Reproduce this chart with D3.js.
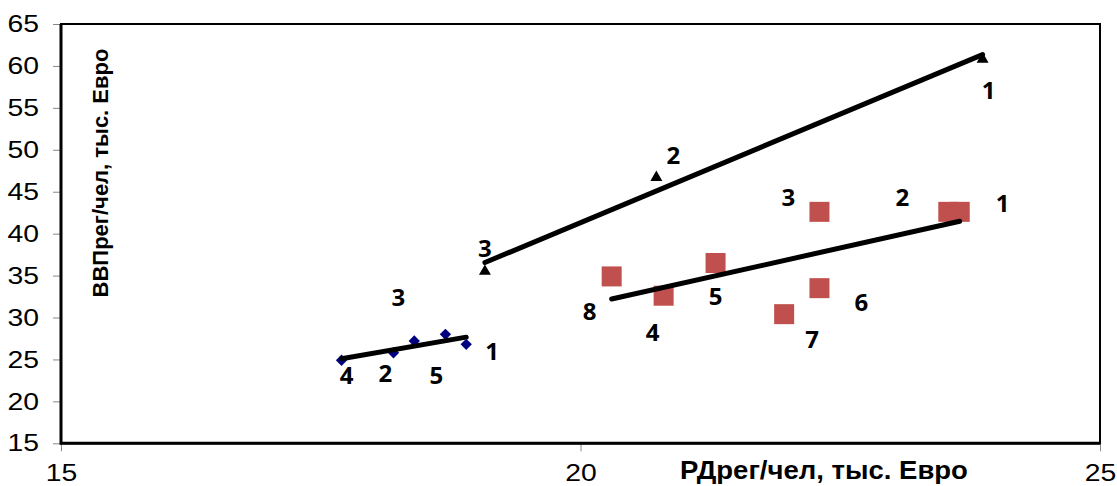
<!DOCTYPE html>
<meta charset="utf-8">
<style>
  body { margin: 0; background: #fff; }
  .tick text { font: 24px "Liberation Sans", Arial, sans-serif; fill: #000; }
  .tick line { stroke: #888; stroke-width: 1px; }
  .axis-title { font: bold 22px "Liberation Sans", Arial, sans-serif; fill: #000; }
  .x-title { font-size: 25px; }
  .pt-label { font: bold 24px "Open Sans", sans-serif; fill: #000; }
  .trend { fill: none; stroke: #000; stroke-width: 5px; stroke-linecap: round; }
</style>
<body>
<script src="https://cdn.jsdelivr.net/npm/d3@7"></script>
<script>
  // tick values
  var xTicks = [15, 20, 25];
  var yTicks = [15, 20, 25, 30, 35, 40, 45, 50, 55, 60, 65];

  // series 1 - blue diamonds
  var blueX = [17.7, 18.2, 18.4, 18.7, 18.9];
  var blueY = [24.9, 25.8, 27.2, 28.0, 26.8];
  var blueLabels = ["4", "2", "3", "5", "1"];

  // series 2 - red squares
  var redX = [20.3, 20.8, 21.3, 22.3, 22.3, 21.96, 23.54, 23.65];
  var redY = [34.9, 32.6, 36.5, 42.6, 33.5, 30.4, 42.6, 42.6];
  var redLabels = ["8", "4", "5", "3", "6", "7", "2", "1"];

  // series 3 - black triangles
  var triX = [19.08, 20.73, 23.87];
  var triY = [35.5, 46.7, 60.8];
  var triLabels = ["3", "2", "1"];

  // label offsets in px (dragged by hand in the original)
  var blueOff = [[5, 15], [-8, 21], [-16, -44], [-9, 41], [26, 7]];
  var redOff = [[-22, 35], [-11, 37], [0, 33], [-31, -14], [42, 14], [28, 25], [-46, -14], [43, -8]];
  var triOff = [[0, -23], [17, -22], [6, 31]];

  var width = 1117, height = 486;

  var svg = d3.select("body").append("svg")
    .attr("width", width)
    .attr("height", height);

  var x = d3.scaleLinear().domain([15, 25]).range([61, 1100]);
  var y = d3.scaleLinear().domain([15, 65]).range([443.3, 24]);

  // the original chart was stretched sideways a bit
  function stretch(sel, k) {
    sel.each(function () {
      var len = this.getComputedTextLength();
      d3.select(this).attr("textLength", len * k).attr("lengthAdjust", "spacingAndGlyphs");
    });
  }

  // axes
  var yAxis = svg.append("g")
    .attr("transform", "translate(61,0)")
    .call(d3.axisLeft(y).tickValues(yTicks).tickSize(8).tickPadding(14));
  yAxis.select(".domain").remove();

  var xAxis = svg.append("g")
    .attr("transform", "translate(0,443.3)")
    .call(d3.axisBottom(x).tickValues(xTicks).tickSize(8).tickPadding(13));
  xAxis.select(".domain").remove();

  stretch(svg.selectAll(".tick text"), 1.18);

  // plot frame
  svg.append("rect")
    .attr("x", x(15)).attr("y", y(65))
    .attr("width", x(25) - x(15)).attr("height", y(15) - y(65))
    .attr("fill", "none").attr("stroke", "#000").attr("stroke-width", 2);
  svg.append("path")
    .attr("d", "M" + x(15) + "," + y(65) + "V" + y(15) + "H" + x(25))
    .attr("fill", "none").attr("stroke", "#000").attr("stroke-width", 3);

  // axis titles
  svg.append("text")
    .attr("class", "axis-title")
    .attr("transform", "translate(108,173) rotate(-90)")
    .attr("text-anchor", "middle")
    .text("ВВПрег/чел, тыс. Евро");

  svg.append("text")
    .attr("class", "axis-title x-title")
    .attr("x", 824).attr("y", 479)
    .attr("text-anchor", "middle")
    .text("РДрег/чел, тыс. Евро")
    .call(stretch, 1.1);

  function zip(xs, ys) {
    return xs.map(function (v, i) { return [v, ys[i]]; });
  }

  // least squares trend line from min x to max x
  function trend(pts) {
    var mx = d3.mean(pts, function (d) { return d[0]; });
    var my = d3.mean(pts, function (d) { return d[1]; });
    var sxy = d3.sum(pts, function (d) { return (d[0] - mx) * (d[1] - my); });
    var sxx = d3.sum(pts, function (d) { return (d[0] - mx) * (d[0] - mx); });
    var b = sxy / sxx, a = my - b * mx;
    var ext = d3.extent(pts, function (d) { return d[0]; });
    return ext.map(function (v) { return [v, a + b * v]; });
  }

  var line = d3.line()
    .x(function (d) { return x(d[0]); })
    .y(function (d) { return y(d[1]); });

  var blue = zip(blueX, blueY), red = zip(redX, redY), tri = zip(triX, triY);

  // markers
  svg.append("g").selectAll("rect")
    .data(red).enter().append("rect")
    .attr("x", function (d) { return x(d[0]) - 10; })
    .attr("y", function (d) { return y(d[1]) - 10; })
    .attr("width", 20).attr("height", 20)
    .attr("fill", "#C0504D");

  svg.append("g").selectAll("path")
    .data(blue).enter().append("path")
    .attr("d", d3.symbol(d3.symbolSquare, 64))
    .attr("transform", function (d) {
      return "translate(" + x(d[0]) + "," + y(d[1]) + ") rotate(45)";
    })
    .attr("fill", "#000080");

  svg.append("g").selectAll("path")
    .data(tri).enter().append("path")
    .attr("d", d3.symbol(d3.symbolTriangle, 62))
    .attr("transform", function (d) {
      return "translate(" + x(d[0]) + "," + y(d[1]) + ")";
    })
    .attr("fill", "#000");

  // trend lines
  [blue, red, tri].forEach(function (pts) {
    svg.append("path").attr("class", "trend").attr("d", line(trend(pts)));
  });

  // data labels
  function labels(pts, txt, off) {
    svg.append("g").selectAll("text")
      .data(pts).enter().append("text")
      .attr("class", "pt-label")
      .attr("text-anchor", "middle")
      .attr("dy", "0.36em")
      .attr("x", function (d, i) { return x(d[0]) + off[i][0]; })
      .attr("y", function (d, i) { return y(d[1]) + off[i][1]; })
      .text(function (d, i) { return txt[i]; });
  }
  labels(blue, blueLabels, blueOff);
  labels(red, redLabels, redOff);
  labels(tri, triLabels, triOff);
</script>
</body>
